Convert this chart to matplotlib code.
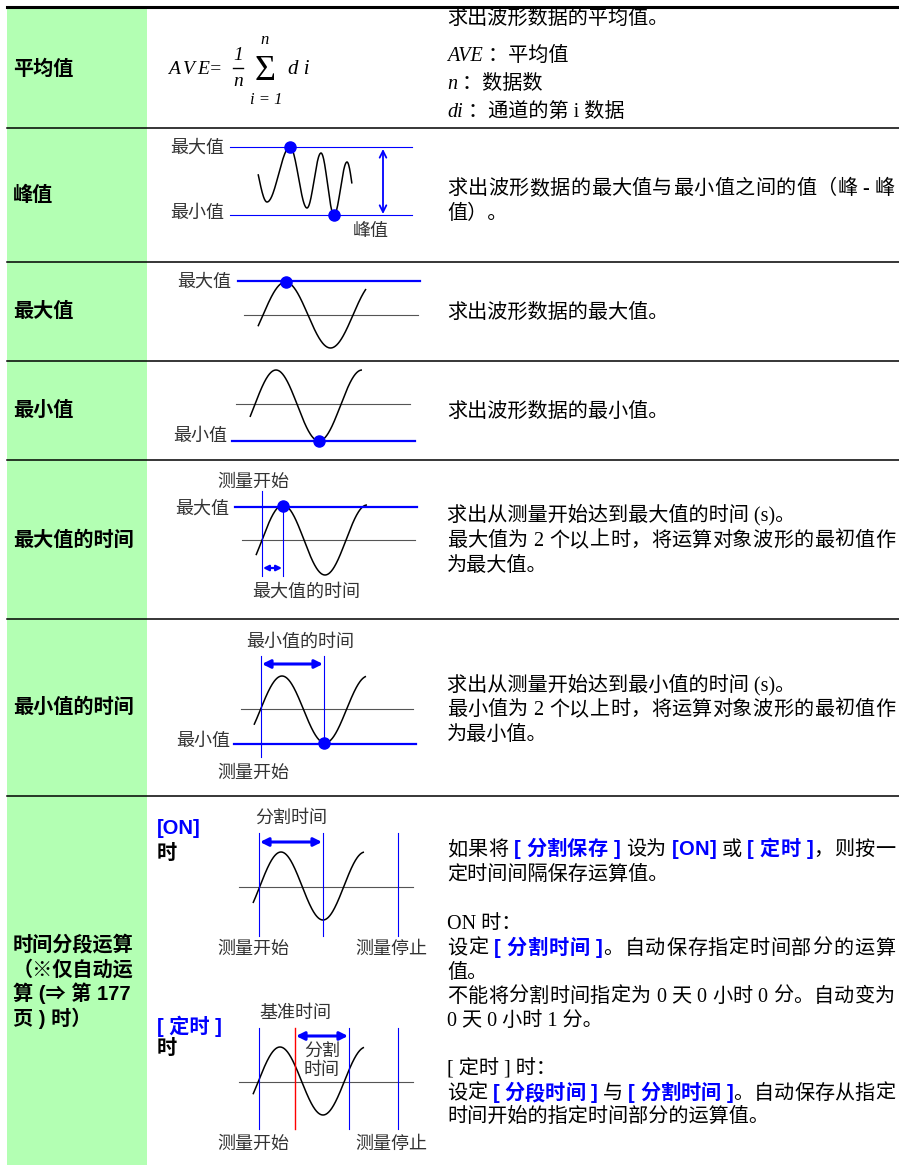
import numpy as np
import matplotlib
matplotlib.use('Agg')
import matplotlib.pyplot as plt
from matplotlib.patches import Rectangle

# ---------------- data (texts) ----------------
row_labels = ["平均值", "峰值", "最大值", "最小值", "最大值的时间", "最小值的时间"]
last_label = ["时间分段运算", "（※仅自动运", "算 (⇒ 第 177", "页 ) 时）"]

desc_avg = [
    [("求出波形数据的平均值。", 'n')],
    [("AVE", 'i'), (" ：平均值", 'n')],
    [("n", 'i'), (" ：数据数", 'n')],
    [("di", 'i'), (" ：通道的第 i 数据", 'n')],
]
desc_pp = [[("求出波形数据的最大值与最小值之间的值（峰 - 峰", 'n')], [("值）。", 'n')]]
desc_max = [[("求出波形数据的最大值。", 'n')]]
desc_min = [[("求出波形数据的最小值。", 'n')]]
desc_tmax = [[("求出从测量开始达到最大值的时间 (s)。", 'n')],
             [("最大值为 2 个以上时，将运算对象波形的最初值作", 'n')],
             [("为最大值。", 'n')]]
desc_tmin = [[("求出从测量开始达到最小值的时间 (s)。", 'n')],
             [("最小值为 2 个以上时，将运算对象波形的最初值作", 'n')],
             [("为最小值。", 'n')]]
desc_split = [
    [("如果将 ", 'n'), ("[ 分割保存 ]", 'b'), (" 设为 ", 'n'), ("[ON]", 'b'), (" 或 ", 'n'), ("[ 定时 ]", 'b'), ("，则按一", 'n')],
    [("定时间间隔保存运算值。", 'n')],
    [("ON 时：", 'n')],
    [("设定 ", 'n'), ("[ 分割时间 ]", 'b'), ("。自动保存指定时间部分的运算", 'n')],
    [("值。", 'n')],
    [("不能将分割时间指定为 0 天 0 小时 0 分。自动变为", 'n')],
    [("0 天 0 小时 1 分。", 'n')],
    [("[ 定时 ] 时：", 'n')],
    [("设定 ", 'n'), ("[ 分段时间 ]", 'b'), (" 与 ", 'n'), ("[ 分割时间 ]", 'b'), ("。自动保存从指定", 'n')],
    [("时间开始的指定时间部分的运算值。", 'n')],
]
# which lines are justified to the right edge of the column
just_pp = [True, False]
just_t = [False, True, False]
just_split = [True, False, False, True, False, True, False, False, True, False]

# peak-to-peak waveform extrema (x, y in px)
pp_x = [250, 267, 290, 307, 321, 334, 347, 358]
pp_y = [150, 202, 147, 208, 153, 215, 162, 214]

# ---------------- figure ----------------
W, H = 899, 1165
fig = plt.figure(figsize=(W / 100, H / 100), dpi=100)
ax = fig.add_axes([0, 0, 1, 1])
ax.set_xlim(0, W)
ax.set_ylim(H, 0)
ax.axis('off')
renderer = fig.canvas.get_renderer()

BLUE = '#0000ff'
GRAY = '#333333'
CJK = 'Noto Sans CJK SC'
FS = 14.5
STY = {
    'n': dict(family=['Liberation Serif', CJK, 'DejaVu Sans'], size=FS, color='black'),
    'i': dict(family=['Liberation Serif'], style='italic', size=FS, color='black'),
    'b': dict(family=['Liberation Sans', CJK, 'DejaVu Sans'], weight='bold', size=FS, color=BLUE),
}
LBL = dict(family=[CJK], size=13, color=GRAY)
HEAD = dict(family=['Liberation Sans', CJK, 'DejaVu Sans'], weight='bold', size=14.5, color='black')
RIGHT = 895

_cache = {}


def tw(s, st):
    key = (s, st)
    if key not in _cache:
        t = ax.text(0, 0, s, **STY[st])
        _cache[key] = t.get_window_extent(renderer=renderer).width
        t.remove()
    return _cache[key]


def rich(x, yc, segs, justify=False):
    y = yc + 7
    if not justify:
        for txt, st in segs:
            ax.text(x, y, txt, va='baseline', ha='left', **STY[st])
            x += tw(txt, st)
        return
    # per-character placement with justification
    items = []
    xs = x
    for txt, st in segs:
        for k, ch in enumerate(txt):
            if ch == ' ':
                continue
            pos = xs + tw(txt[:k + 1], st) - tw(ch, st)
            items.append((pos, ch, st))
        xs += tw(txt, st)
    natural = xs
    n = len(items)
    gap = (RIGHT - natural) / (n - 1) if n > 1 else 0
    for j, (pos, ch, st) in enumerate(items):
        ax.text(pos + j * gap, y, ch, va='baseline', ha='left', **STY[st])


def block(yc_list, lines, just=None, x=447):
    if just is None:
        just = [False] * len(lines)
    for yc, segs, jf in zip(yc_list, lines, just):
        rich(x, yc, segs, jf)


def sine(x0, x1, xr, half, amp, cy):
    x = np.linspace(x0, x1, 300)
    y = cy - amp * np.sin(np.pi * (x - xr) / half)
    ax.plot(x, y, color='black', lw=1.1, solid_capstyle='butt')


def hline(y, x0, x1, color=BLUE, lw=0.8):
    ax.plot([x0, x1], [y, y], color=color, lw=lw)


def vline(x, y0, y1, color=BLUE, lw=0.8):
    ax.plot([x, x], [y0, y1], color=color, lw=lw)


def dot(x, y):
    ax.plot([x], [y], 'o', color=BLUE, ms=8, mec=BLUE, zorder=5)


def darrow(x0, y0, x1, y1, lw=2.2, ms=12):
    ax.annotate('', xy=(x1, y1), xytext=(x0, y0),
                arrowprops=dict(arrowstyle='<|-|>', color=BLUE, lw=lw,
                                mutation_scale=ms, shrinkA=0, shrinkB=0))


# ---------------- table frame ----------------
ax.add_patch(Rectangle((7, 7), 140, H - 7, facecolor='#b3ffb3', edgecolor='none', zorder=0))
ax.plot([7, W], [7, 7], color='black', lw=2.2)
for ys in [128, 262, 361, 460, 619, 796]:
    ax.plot([7, W], [ys, ys], color='black', lw=1.1)

# row headers
for lab, yc in zip(row_labels, [69, 195, 311, 410, 540, 707]):
    ax.text(13, yc, lab, va='center', ha='left', **HEAD)
for lab, yc in zip(last_label, [945, 970, 993, 1018]):
    ax.text(13, yc, lab, va='center', ha='left', **HEAD)

# ---------------- row 1: formula ----------------
FI = dict(family=['Liberation Serif'], style='italic', color='black')
for ch, xx in zip(["A", "V", "E", "="], [168, 183, 197, 209]):
    ax.text(xx, 69, ch, va='center', ha='left', size=14, **FI)
ax.text(238, 55, "1", va='center', ha='center', size=14, **FI)
ax.plot([233, 243], [68, 68], color='black', lw=1.0)
ax.text(238, 82, "n", va='center', ha='center', size=14, **FI)
ax.text(265, 72, "Σ", va='center', ha='center', size=26, family=['Liberation Serif'], color='black')
ax.text(265, 40, "n", va='center', ha='center', size=12, **FI)
ax.text(266, 100, "i = 1", va='center', ha='center', size=12, **FI)
ax.text(288, 69, "d i", va='center', ha='left', size=15, **FI)
block([17, 54, 82, 110], desc_avg)

# ---------------- row 2: peak-to-peak ----------------
hline(147, 230, 412)
hline(215, 230, 412)
xs = []
ys = []
for i in range(len(pp_x) - 1):
    xa, xb, ya, yb = pp_x[i], pp_x[i + 1], pp_y[i], pp_y[i + 1]
    tt = np.linspace(0, 1, 40)
    xs.append(xa + (xb - xa) * tt)
    ys.append(ya + (yb - ya) * (1 - np.cos(np.pi * tt)) / 2)
xs = np.concatenate(xs)
ys = np.concatenate(ys)
m = (xs >= 258) & (xs <= 352)
ax.plot(xs[m], ys[m], color='black', lw=1.1)
dot(290, 147)
dot(334, 215)
ax.annotate('', xy=(383, 149), xytext=(383, 214),
            arrowprops=dict(arrowstyle='<->', color=BLUE, lw=1.3,
                            mutation_scale=12, shrinkA=0, shrinkB=0))
ax.text(224, 148, "最大值", va='center', ha='right', **LBL)
ax.text(224, 213, "最小值", va='center', ha='right', **LBL)
ax.text(371, 231, "峰值", va='center', ha='center', **LBL)
block([187, 212], desc_pp, just_pp)

# ---------------- row 3: max ----------------
hline(315, 244, 418, color='#555555', lw=0.8)
sine(258, 366, 263, 45, 33, 315)
hline(281, 238, 420, lw=1.6)
dot(286, 282)
ax.text(231, 282, "最大值", va='center', ha='right', **LBL)
block([311], desc_max)

# ---------------- row 4: min ----------------
hline(404, 236, 410, color='#555555', lw=0.8)
sine(250, 362, 254.5, 43, 35.5, 405.5)
hline(441, 232, 415, lw=1.6)
dot(319, 441)
ax.text(227, 436, "最小值", va='center', ha='right', **LBL)
block([410], desc_min)

# ---------------- row 5: time of max ----------------
hline(540, 242, 415, color='#555555', lw=0.8)
sine(256, 367, 262, 42, 35, 540)
hline(507, 235, 417, lw=1.6)
vline(262, 491, 576)
vline(283, 505, 576)
dot(283, 506)
darrow(263, 568, 282, 568, lw=1.6, ms=8)
ax.text(253, 482, "测量开始", va='center', ha='center', **LBL)
ax.text(229, 509, "最大值", va='center', ha='right', **LBL)
ax.text(306, 592, "最大值的时间", va='center', ha='center', **LBL)
block([513, 539, 564], desc_tmax, just_t)

# ---------------- row 6: time of min ----------------
hline(709, 241, 413, color='#555555', lw=0.8)
sine(254, 366, 260.5, 43, 33.5, 709.5)
hline(744, 234, 416, lw=1.6)
vline(261, 656, 757)
vline(324, 656, 744)
dot(324, 743)
darrow(262, 664, 323, 664)
ax.text(300, 642, "最小值的时间", va='center', ha='center', **LBL)
ax.text(230, 741, "最小值", va='center', ha='right', **LBL)
ax.text(253, 773, "测量开始", va='center', ha='center', **LBL)
block([683, 708, 733], desc_tmin, just_t)

# ---------------- row 7: split ----------------
ax.text(157, 828, "[ON]", va='center', ha='left', **{**HEAD, 'color': BLUE})
ax.text(157, 853, "时", va='center', ha='left', **HEAD)
hline(887, 239, 413, color='#555555', lw=0.8)
sine(253, 364, 260, 42, 34, 886)
for xv in [259, 323, 398]:
    vline(xv, 833, 936)
darrow(260, 842, 322, 842)
ax.text(291, 818, "分割时间", va='center', ha='center', **LBL)
ax.text(253, 949, "测量开始", va='center', ha='center', **LBL)
ax.text(391, 949, "测量停止", va='center', ha='center', **LBL)

ax.text(157, 1026, "[ 定时 ]", va='center', ha='left', **{**HEAD, 'color': BLUE})
ax.text(157, 1048, "时", va='center', ha='left', **HEAD)
hline(1082, 239, 413, color='#555555', lw=0.8)
sine(253, 364, 258.5, 43, 34, 1081)
for xv in [259, 349, 398]:
    vline(xv, 1028, 1129)
vline(295, 1028, 1129, color='#ff0000', lw=1.0)
darrow(296, 1036, 348, 1036)
ax.text(295, 1013, "基准时间", va='center', ha='center', **LBL)
ax.text(322, 1052, "分割", va='center', ha='center', **LBL)
ax.text(322, 1070, "时间", va='center', ha='center', **LBL)
ax.text(253, 1144, "测量开始", va='center', ha='center', **LBL)
ax.text(391, 1144, "测量停止", va='center', ha='center', **LBL)
block([848, 873, 922, 947, 971, 995, 1019, 1067, 1092, 1115], desc_split, just_split)

fig.savefig('out.png', dpi=100)
